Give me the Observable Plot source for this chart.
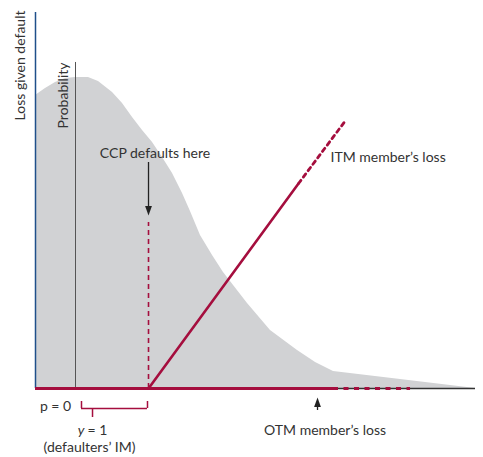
<!DOCTYPE html>
<html><head><meta charset="utf-8">
<script src="https://cdn.jsdelivr.net/npm/d3@7"></script>
<script src="https://cdn.jsdelivr.net/npm/@observablehq/plot@0.6"></script>
<style>body{margin:0;background:#fff}#chart svg{display:block}</style>
</head><body><div id="chart"></div>
<script>
// Price-move axis (units: p = 0 at 0, defaulters' IM y = 1 at 1)
const xMin = -0.548, xMax = 5.479;
const yMin = -0.945, yMax = 5.315;

// Probability distribution (grey area)
const densityX = [-0.548,-0.411,-0.274,-0.137,0,0.178,0.315,0.507,0.644,0.781,0.918,1.055,1.192,1.329,1.466,1.575,1.712,1.877,2.027,2.356,2.671,3.041,3.288,3.534,4.452,5.479];
const densityY = [4.014,4.11,4.192,4.247,4.26,4.26,4.205,4.055,3.904,3.712,3.534,3.37,3.164,2.945,2.671,2.425,2.096,1.822,1.589,1.164,0.795,0.521,0.356,0.233,0.123,0];

// Loss lines
const itmSolidX = [1, 3.055], itmSolidY = [0, 2.808];
const itmDashX = [3.055, 3.699], itmDashY = [2.808, 3.671];
const otmSolidX = [xMin, 3.534], otmDashX = [3.534, 4.589];
const defaultX = 1, defaultTop = 2.274;
const lgdAxisTop = 5.15, probAxisTop = 4.466;

// Bracket for defaulters' IM
const bracketX = [0.082, 0.986], bracketTop = -0.178, bracketY = -0.274, bracketStemX = 0.233, bracketStemBottom = -0.397;

// Arrows
const ccpArrow = {x: 1, tail: 3.096, tip: 2.37};
const otmArrow = {x: 3.315, tail: -0.301, tip: -0.123};

// Labels
const centerLabels = [
  {x: 1.089, y: 3.219, text: "CCP defaults here"},
  {x: 3.418, y: -0.582, text: "OTM member’s loss"},
  {x: -0.274, y: -0.247, text: "p = 0"},
  {x: 0.192, y: -0.808, text: "(defaulters’ IM)"}
];
const startLabels = [
  {x: 3.493, y: 3.158, text: "ITM member’s loss"},
  {x: 0.164, y: -0.582, text: "= 1"}
];
const italicLabels = [{x: 0.123, y: -0.582, text: "y"}];
const rotatedLabels = [
  {x: -0.753, y: 5.178, text: "Loss given default"},
  {x: -0.164, y: 4.466, text: "Probability"}
];

const crimson = "#a50e3e";
const textColor = "#333";
const font = "Lato, 'Open Sans', sans-serif";

const pts = (xs, ys) => xs.map((x, i) => ({x, y: ys[i]}));
const arrowHead = {draw(ctx) { ctx.moveTo(0, 0); ctx.lineTo(-3.4, -9.5); ctx.lineTo(3.4, -9.5); ctx.closePath(); }};
const headLen = 9.5 / 73;
const txt = {x: "x", y: "y", text: "text", fill: textColor, fontSize: 14, lineAnchor: "middle"};

const chart = Plot.plot({
  width: 483, height: 457,
  marginLeft: 35, marginRight: 8, marginTop: 0, marginBottom: 0,
  x: {domain: [xMin, xMax], axis: null},
  y: {domain: [yMin, yMax], axis: null},
  style: {fontFamily: font, background: "#fff"},
  marks: [
    Plot.areaY(pts(densityX, densityY), {x: "x", y: "y", fill: "#d1d2d4"}),
    Plot.ruleX([0], {y1: 0, y2: probAxisTop, stroke: "#555", strokeWidth: 1}),
    Plot.ruleX([xMin], {y1: 0, y2: lgdAxisTop, stroke: "#1f4f8a", strokeWidth: 1.5}),
    Plot.ruleY([0], {x1: xMin, x2: xMax, stroke: "#333", strokeWidth: 1.5}),
    Plot.ruleY([0], {x1: otmSolidX[0], x2: otmSolidX[1], stroke: crimson, strokeWidth: 3}),
    Plot.ruleY([0], {x1: otmDashX[0], x2: otmDashX[1], stroke: crimson, strokeWidth: 3, strokeDasharray: "5,5.5"}),
    Plot.ruleX([defaultX], {y1: 0, y2: defaultTop, stroke: crimson, strokeWidth: 1.6, strokeDasharray: "5,4"}),
    Plot.line(pts(itmSolidX, itmSolidY), {x: "x", y: "y", stroke: crimson, strokeWidth: 2.6}),
    Plot.line(pts(itmDashX, itmDashY), {x: "x", y: "y", stroke: crimson, strokeWidth: 2.8, strokeDasharray: "4,4"}),
    // bracket
    Plot.ruleY([bracketY], {x1: bracketX[0], x2: bracketX[1], stroke: crimson, strokeWidth: 1.5}),
    Plot.ruleX(bracketX, {y1: bracketY, y2: bracketTop, stroke: crimson, strokeWidth: 1.5}),
    Plot.ruleX([bracketStemX], {y1: bracketY, y2: bracketStemBottom, stroke: crimson, strokeWidth: 1.5}),
    // arrows
    Plot.ruleX([ccpArrow.x], {y1: ccpArrow.tail, y2: ccpArrow.tip + headLen * 0.8, stroke: "#222", strokeWidth: 1.3}),
    Plot.dot([ccpArrow], {x: "x", y: "tip", symbol: arrowHead, fill: "#222", stroke: null}),
    Plot.ruleX([otmArrow.x], {y1: otmArrow.tail, y2: otmArrow.tip - headLen * 0.8, stroke: "#222", strokeWidth: 1.3}),
    Plot.dot([otmArrow], {x: "x", y: "tip", symbol: arrowHead, fill: "#222", stroke: null, rotate: 180}),
    // text
    Plot.text(centerLabels, {...txt, textAnchor: "middle"}),
    Plot.text(startLabels, {...txt, textAnchor: "start"}),
    Plot.text(italicLabels, {...txt, textAnchor: "end", fontStyle: "italic"}),
    Plot.text(rotatedLabels, {...txt, rotate: -90, textAnchor: "end"})
  ]
});
document.getElementById("chart").append(chart);
</script>
</body></html>
